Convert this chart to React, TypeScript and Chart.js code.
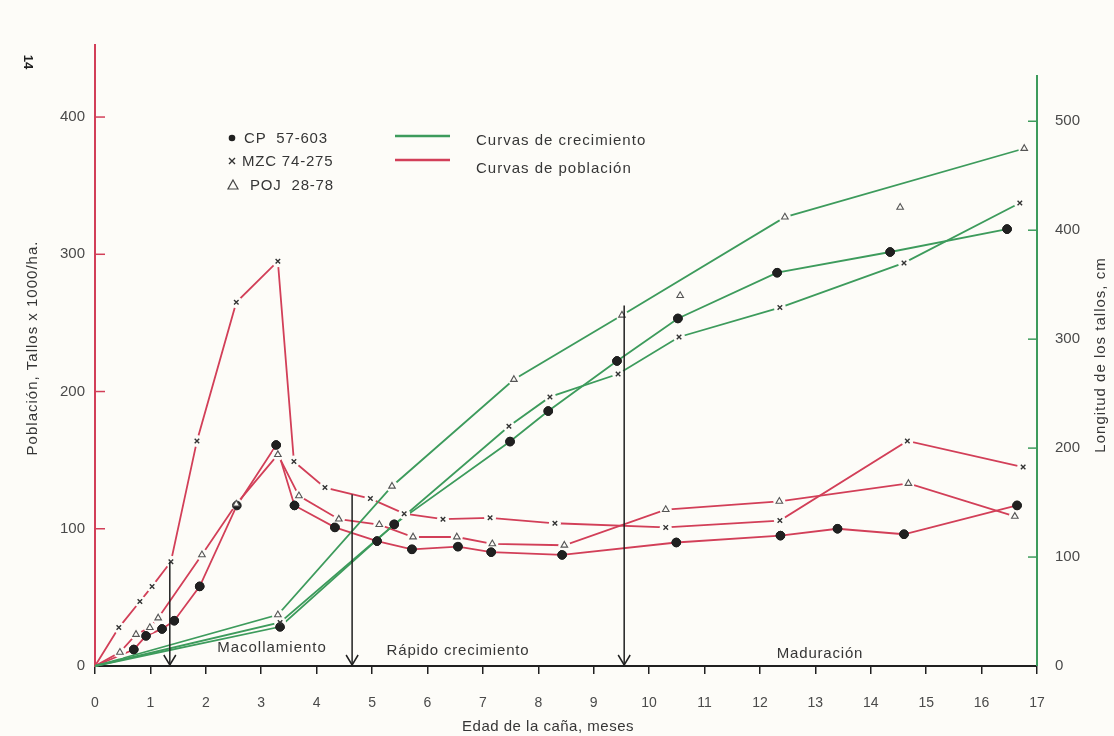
import React, { useEffect, useRef } from "react";
import { Chart, registerables } from "chart.js";

Chart.register(...registerables);

// ---------- tick labels ----------
const monthTicks = [0, 1, 2, 3, 4, 5, 6, 7, 8, 9, 10, 11, 12, 13, 14, 15, 16, 17];
const popTicks = [0, 100, 200, 300, 400];
const lengthTicks = [0, 100, 200, 300, 400, 500];

// ---------- population curves (Tallos x 1000/ha, left axis) ----------
const cpPopMonths = [0, 0.7, 0.92, 1.21, 1.43, 1.89, 2.56, 3.27, 3.6, 4.33, 5.09, 5.72, 6.55, 7.15, 8.43, 10.49, 12.37, 13.4, 14.6, 16.64];
const cpPopValues = [0, 12, 22, 27, 33, 58, 117, 161, 117, 101, 91, 85, 87, 83, 81, 90, 95, 100, 96, 117];

const mzcPopMonths = [0, 0.43, 0.81, 1.03, 1.37, 1.84, 2.55, 3.3, 3.59, 4.15, 4.97, 5.58, 6.28, 7.13, 8.3, 10.3, 12.36, 14.66, 16.75];
const mzcPopValues = [0, 28, 47, 58, 76, 164, 265, 295, 149, 130, 122, 111, 107, 108, 104, 101, 106, 164, 145];

const pojPopMonths = [0, 0.45, 0.74, 0.99, 1.14, 1.93, 2.55, 3.3, 3.68, 4.4, 5.13, 5.74, 6.53, 7.17, 8.47, 10.3, 12.35, 14.68, 16.6];
const pojPopValues = [0, 10, 23, 28, 35, 81, 118, 154, 124, 107, 103, 94, 94, 89, 88, 114, 120, 133, 109];

// ---------- growth curves (Longitud de los tallos, cm, right axis) ----------
const cpGrowMonths = [0, 3.34, 5.4, 7.49, 8.18, 9.42, 10.52, 12.31, 14.35, 16.46];
const cpGrowValues = [0, 36, 130, 206, 234, 280, 319, 361, 380, 401];

const mzcGrowMonths = [0, 3.34, 7.47, 8.21, 9.44, 10.54, 12.36, 14.6, 16.69];
const mzcGrowValues = [0, 40, 220, 247, 268, 302, 329, 370, 425];

const pojGrowMonths = [0, 3.3, 5.36, 7.56, 9.51, 12.45, 16.77];
const pojGrowValues = [0, 47, 165, 263, 322, 412, 475];
const pojGrowLooseMonths = [10.56, 14.53];
const pojGrowLooseValues = [340, 421];

// ---------- phase arrows ----------
const arrowMonths = [1.35, 4.64, 9.55];
const arrowTops = [76, 125, 331];
const arrowAxes = ["yL", "yL", "yR"];

const phaseLabels = ["Macollamiento", "Rápido crecimiento", "Maduración"];

// ---------- styling ----------
const RED = "#d23f58";
const GREEN = "#3d9b5c";
const INK = "#202020";
const PAPER = "#fdfcf8";
const TEXT = "#363636";
const TICKTEXT = "#4a4a4a";
const FONT = "'Liberation Sans', Arial, Helvetica, sans-serif";

const LEFT_MAX = 452.5;
const RIGHT_MAX = 570;

const zip = (xs: number[], ys: number[]) => xs.map((x, i) => ({ x, y: ys[i] }));

const radiusSkipOrigin = (r: number) => (c: any) => (c.dataIndex === 0 ? 0 : r);

const cpStyle = {
  pointStyle: "circle",
  pointRadius: radiusSkipOrigin(4.3),
  pointBackgroundColor: INK,
  pointBorderColor: INK,
  pointBorderWidth: 1,
};
const mzcStyle = {
  pointStyle: "crossRot",
  pointRadius: radiusSkipOrigin(3.2),
  pointBorderColor: "#333",
  pointBorderWidth: 1.4,
  halo: 6,
};
const pojStyle = {
  pointStyle: "triangle",
  pointRadius: radiusSkipOrigin(3.8),
  pointBackgroundColor: PAPER,
  pointBorderColor: "#555",
  pointBorderWidth: 1.1,
  halo: 6,
};

function drawText(
  ctx: CanvasRenderingContext2D,
  str: string,
  x: number,
  y: number,
  o: { size?: number; align?: CanvasTextAlign; color?: string; rotate?: number; spacing?: number; bold?: boolean } = {}
) {
  ctx.save();
  ctx.translate(x, y);
  if (o.rotate) ctx.rotate(o.rotate);
  ctx.font = `${o.bold ? "bold " : ""}${o.size || 15}px ${FONT}`;
  (ctx as any).letterSpacing = `${o.spacing || 0}px`;
  ctx.fillStyle = o.color || TEXT;
  ctx.textAlign = o.align || "left";
  ctx.textBaseline = "middle";
  ctx.fillText(str, 0, 0);
  ctx.restore();
}

const paperPlugin = {
  id: "paper",
  beforeDraw(chart: any) {
    const ctx = chart.ctx;
    ctx.save();
    ctx.fillStyle = PAPER;
    ctx.fillRect(0, 0, chart.width, chart.height);
    ctx.restore();
  },
};

const markerPlugin = {
  id: "markers",
  afterDatasetsDraw(chart: any) {
    const ctx = chart.ctx;
    // paper halos around markers (gaps in the lines as in the print)
    chart.data.datasets.forEach((ds: any, i: number) => {
      if (!ds.halo) return;
      const meta = chart.getDatasetMeta(i);
      meta.data.forEach((el: any) => {
        if (!el.options || el.options.radius <= 0) return;
        ctx.save();
        ctx.fillStyle = PAPER;
        ctx.beginPath();
        ctx.arc(el.x, el.y, ds.halo, 0, Math.PI * 2);
        ctx.fill();
        ctx.restore();
      });
    });
    chart.data.datasets.forEach((_: any, i: number) => {
      const meta = chart.getDatasetMeta(i);
      meta.data.forEach((el: any) => {
        if (el.options && el.options.radius > 0) el.draw(ctx, chart.chartArea);
      });
    });
  },
};

const decorPlugin = {
  id: "decor",
  afterDraw(chart: any) {
    const ctx: CanvasRenderingContext2D = chart.ctx;
    const area = chart.chartArea;
    const xs = chart.scales.x;
    const yL = chart.scales.yL;
    const yR = chart.scales.yR;

    // right axis line (green)
    ctx.save();
    ctx.strokeStyle = GREEN;
    ctx.lineWidth = 2;
    ctx.beginPath();
    ctx.moveTo(area.right, area.bottom);
    ctx.lineTo(area.right, area.top + 30);
    ctx.stroke();
    ctx.restore();

    // inward tick marks
    ctx.save();
    ctx.lineWidth = 1.5;
    ctx.strokeStyle = RED;
    popTicks.forEach((v) => {
      if (v === 0) return;
      const y = yL.getPixelForValue(v);
      ctx.beginPath();
      ctx.moveTo(area.left, y);
      ctx.lineTo(area.left + 10, y);
      ctx.stroke();
    });
    ctx.strokeStyle = GREEN;
    lengthTicks.forEach((v) => {
      if (v === 0) return;
      const y = yR.getPixelForValue(v);
      ctx.beginPath();
      ctx.moveTo(area.right - 9, y);
      ctx.lineTo(area.right, y);
      ctx.stroke();
    });
    ctx.restore();

    // phase arrows
    ctx.save();
    ctx.strokeStyle = INK;
    ctx.lineWidth = 1.5;
    arrowMonths.forEach((m, i) => {
      const x = xs.getPixelForValue(m);
      const sc = arrowAxes[i] === "yL" ? yL : yR;
      const top = sc.getPixelForValue(arrowTops[i]);
      const bottom = area.bottom;
      ctx.beginPath();
      ctx.moveTo(x, top);
      ctx.lineTo(x, bottom);
      ctx.stroke();
      ctx.beginPath();
      ctx.moveTo(x - 6, bottom - 11);
      ctx.lineTo(x, bottom - 1);
      ctx.lineTo(x + 6, bottom - 11);
      ctx.stroke();
    });
    ctx.restore();

    // phase labels
    drawText(ctx, phaseLabels[0], 272, 648, { align: "center", spacing: 1 });
    drawText(ctx, phaseLabels[1], 458, 651, { align: "center", spacing: 0.8 });
    drawText(ctx, phaseLabels[2], 820, 654, { align: "center", spacing: 0.8 });

    // axis titles
    drawText(ctx, "Edad de la caña, meses", 548, 727, { align: "center", spacing: 0.5 });
    drawText(ctx, "Población, Tallos x 1000/ha.", 33, 348, { align: "center", rotate: -Math.PI / 2, spacing: 1 });
    drawText(ctx, "Longitud de los tallos, cm", 1101, 355, { align: "center", rotate: -Math.PI / 2, spacing: 1 });
    drawText(ctx, "14", 28, 62, { align: "center", rotate: Math.PI / 2, bold: true, size: 13, color: INK });

    // legend: varieties
    ctx.save();
    ctx.fillStyle = INK;
    ctx.beginPath();
    ctx.arc(232, 138, 3.3, 0, Math.PI * 2);
    ctx.fill();
    ctx.strokeStyle = "#333";
    ctx.lineWidth = 1.4;
    ctx.beginPath();
    ctx.moveTo(229, 158);
    ctx.lineTo(235, 164);
    ctx.moveTo(235, 158);
    ctx.lineTo(229, 164);
    ctx.stroke();
    ctx.strokeStyle = "#444";
    ctx.lineWidth = 1.2;
    ctx.beginPath();
    ctx.moveTo(233, 180);
    ctx.lineTo(238, 189);
    ctx.lineTo(228, 189);
    ctx.closePath();
    ctx.stroke();
    ctx.restore();
    drawText(ctx, "CP  57-603", 244, 139, { spacing: 0.8 });
    drawText(ctx, "MZC 74-275", 242, 162, { spacing: 0.8 });
    drawText(ctx, "POJ  28-78", 250, 186, { spacing: 0.8 });

    // legend: curve types
    ctx.save();
    ctx.lineWidth = 2.5;
    ctx.strokeStyle = GREEN;
    ctx.beginPath();
    ctx.moveTo(395, 136);
    ctx.lineTo(450, 136);
    ctx.stroke();
    ctx.strokeStyle = RED;
    ctx.beginPath();
    ctx.moveTo(395, 160);
    ctx.lineTo(450, 160);
    ctx.stroke();
    ctx.restore();
    drawText(ctx, "Curvas de crecimiento", 476, 141, { spacing: 1 });
    drawText(ctx, "Curvas de población", 476, 169, { spacing: 1 });
  },
};

export default function App() {
  const ref = useRef<HTMLCanvasElement>(null);

  useEffect(() => {
    if (!ref.current) return;
    const lineBase = { fill: false, tension: 0, borderWidth: 1.8, clip: false as any };
    const chart = new Chart(ref.current, {
      type: "line",
      data: {
        datasets: [
          { ...lineBase, ...cpStyle, label: "CP 57-603 crecimiento", data: zip(cpGrowMonths, cpGrowValues), borderColor: GREEN, yAxisID: "yR" } as any,
          { ...lineBase, ...mzcStyle, label: "MZC 74-275 crecimiento", data: zip(mzcGrowMonths, mzcGrowValues), borderColor: GREEN, yAxisID: "yR" } as any,
          { ...lineBase, ...pojStyle, label: "POJ 28-78 crecimiento", data: zip(pojGrowMonths, pojGrowValues), borderColor: GREEN, yAxisID: "yR" } as any,
          { ...lineBase, ...pojStyle, pointRadius: 3.8, showLine: false, label: "POJ 28-78 crecimiento (puntos)", data: zip(pojGrowLooseMonths, pojGrowLooseValues), borderColor: GREEN, yAxisID: "yR" } as any,
          { ...lineBase, ...cpStyle, label: "CP 57-603 población", data: zip(cpPopMonths, cpPopValues), borderColor: RED, yAxisID: "yL" } as any,
          { ...lineBase, ...mzcStyle, label: "MZC 74-275 población", data: zip(mzcPopMonths, mzcPopValues), borderColor: RED, yAxisID: "yL" } as any,
          { ...lineBase, ...pojStyle, label: "POJ 28-78 población", data: zip(pojPopMonths, pojPopValues), borderColor: RED, yAxisID: "yL" } as any,
        ],
      },
      options: {
        animation: false,
        responsive: false,
        devicePixelRatio: 1,
        layout: { padding: { top: 45, left: 0, right: 0, bottom: 0 } },
        plugins: { legend: { display: false }, tooltip: { enabled: false } },
        scales: {
          x: {
            type: "linear",
            min: 0,
            max: 17,
            afterFit: (s: any) => {
              s.height = 70;
            },
            afterBuildTicks: (s: any) => {
              s.ticks = monthTicks.map((v) => ({ value: v }));
            },
            ticks: { color: TICKTEXT, font: { family: FONT, size: 14 }, padding: 21, maxRotation: 0, autoSkip: false },
            grid: { drawOnChartArea: false, drawTicks: true, tickLength: 8, color: INK, lineWidth: 1.5 },
            border: { color: INK, width: 2 },
          },
          yL: {
            type: "linear",
            position: "left",
            min: 0,
            max: LEFT_MAX,
            afterFit: (s: any) => {
              s.width = 95;
            },
            afterBuildTicks: (s: any) => {
              s.ticks = popTicks.map((v) => ({ value: v }));
            },
            ticks: { color: TICKTEXT, font: { family: FONT, size: 15 }, padding: 10, includeBounds: false },
            grid: { display: false, drawTicks: false },
            border: { color: RED, width: 2 },
          },
          yR: {
            type: "linear",
            position: "right",
            min: 0,
            max: RIGHT_MAX,
            afterFit: (s: any) => {
              s.width = 77;
            },
            afterBuildTicks: (s: any) => {
              s.ticks = lengthTicks.map((v) => ({ value: v }));
            },
            ticks: { color: TICKTEXT, font: { family: FONT, size: 15 }, padding: 18, includeBounds: false },
            grid: { display: false, drawTicks: false },
            border: { display: false },
          },
        },
      } as any,
      plugins: [paperPlugin, markerPlugin, decorPlugin],
    });
    return () => chart.destroy();
  }, []);

  return (
    <div style={{ position: "fixed", left: 0, top: 0, width: 1114, height: 736, background: PAPER }}>
      <canvas ref={ref} width={1114} height={736} style={{ display: "block", width: 1114, height: 736 }} />
    </div>
  );
}
